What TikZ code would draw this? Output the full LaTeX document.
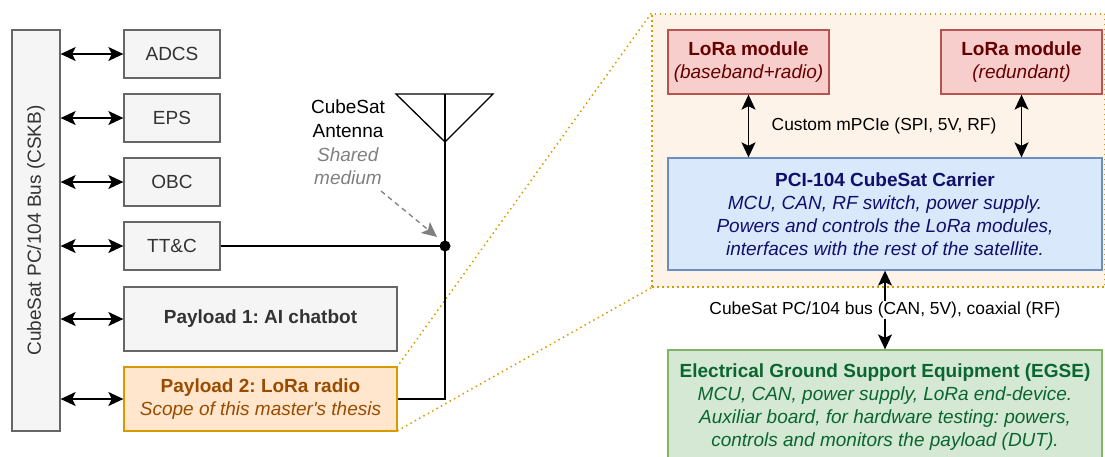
\documentclass[tikz,border=0pt]{standalone}
\usepackage{fontspec}
\setmainfont{Liberation Sans}[Ligatures=TeXOff]
\usetikzlibrary{arrows.meta}
\frenchspacing

\definecolor{grayfill}{HTML}{F5F5F5}
\definecolor{grayline}{HTML}{666666}
\definecolor{graytext}{HTML}{333333}
\definecolor{oranfill}{HTML}{FFE6CC}
\definecolor{oranline}{HTML}{D79B00}
\definecolor{orantext}{HTML}{994C00}
\definecolor{scopefill}{HTML}{FEF3E8}
\definecolor{redfill}{HTML}{F8CECC}
\definecolor{redline}{HTML}{B85450}
\definecolor{redtext}{HTML}{660000}
\definecolor{bluefill}{HTML}{DAE8FC}
\definecolor{blueline}{HTML}{6C8EBF}
\definecolor{bluetext}{HTML}{10106A}
\definecolor{greenfill}{HTML}{D5E8D4}
\definecolor{greenline}{HTML}{82B366}
\definecolor{greentext}{HTML}{0A6630}
\definecolor{notegray}{HTML}{808080}

\begin{document}
\begin{tikzpicture}[x=1pt,y=-1pt,
  txt/.style={font=\fontsize{19}{23}\selectfont},
  edgetxt/.style={font=\fontsize{17.4}{21}\selectfont},
  box/.style={txt, draw, line width=1.3pt, inner sep=0pt, align=center},
  graybox/.style={box, draw=grayline, fill=grayfill, text=graytext},
  oranbox/.style={box, draw=oranline, fill=oranfill, text=orantext},
  redbox/.style={box, draw=redline, fill=redfill, text=redtext},
  bluebox/.style={box, draw=blueline, fill=bluefill, text=bluetext},
  greenbox/.style={box, draw=greenline, fill=greenfill, text=greentext},
  link/.style={line width=1.5pt, {Stealth[length=15pt, width=14pt, inset=3.5pt]}-{Stealth[length=15pt, width=14pt, inset=3.5pt]}},
  wire/.style={line width=1.5pt},
  scopeline/.style={draw=oranline, line width=1.5pt, dash pattern=on 1.5pt off 3.5pt}
]
\useasboundingbox (0,0) rectangle (1105,456);

% detailed view of payload 2
\node[scopeline, fill=scopefill, minimum width=453pt, minimum height=273pt, inner sep=0pt] (scope) at (878.5,150.5) {};

% satellite bus and subsystems
\node[graybox, rotate=90, minimum width=401pt, minimum height=48pt] (bus) at (36,230.5) {CubeSat PC/104 Bus (CSKB)};
\node[graybox, minimum width=96pt, minimum height=48pt] (adcs) at (172,54) {ADCS};
\node[graybox, minimum width=96pt, minimum height=48pt] (eps) at (172,118) {EPS};
\node[graybox, minimum width=96pt, minimum height=48pt] (obc) at (172,182) {OBC};
\node[graybox, minimum width=96pt, minimum height=48pt] (ttc) at (172,246) {TT\&C};
\node[graybox, minimum width=273pt, minimum height=64pt] (pl1) at (260.5,319) {\textbf{Payload 1: AI chatbot}};

% dotted guides from payload 2 to its detailed view
\draw[scopeline] (scope.north west) -- (397,367) coordinate (pl2ne);
\draw[scopeline] (scope.south west) -- (397,431) coordinate (pl2se);

\node[oranbox, minimum width=273pt, minimum height=64pt] (pl2) at (260.5,399)
  {\textbf{Payload 2: LoRa radio}\\\textit{Scope of this master's thesis}};

\foreach \n in {adcs,eps,obc,ttc,pl1,pl2}
  \draw[link] (bus.south |- \n.west) -- (\n.west);

% antenna
\coordinate (antL) at (396,94);
\coordinate (antR) at (493,94);
\coordinate (antTop) at (445,94);
\coordinate (antTip) at (445,142);
\draw[line width=1.3pt, line join=miter] (antL) -- (antR) -- (antTip) -- cycle;
\node[circle, fill=black, inner sep=0pt, minimum size=11pt] (j) at (445,246) {};
\draw[wire] (antTop) -- (j.center);
\draw[wire] (j.center) |- (pl2.east);
\draw[wire] (ttc.east) -- (j.center);

\node[font=\fontsize{19}{23.7}\selectfont, align=center, inner sep=0pt] (antlabel) at (348,142.5)
  {CubeSat\\Antenna\\\textcolor{notegray}{\textit{Shared}}\\\textcolor{notegray}{\textit{medium}}};
\coordinate (notestart) at (381,191);
\coordinate (noteend) at (437,237);
\draw[notegray, line width=1.3pt, dash pattern=on 5pt off 4pt, -{Stealth[length=15pt, width=14pt, inset=3.5pt]}] (notestart) -- (noteend);

% payload 2 internals
\node[redbox, minimum width=161pt, minimum height=64pt] (lora1) at (748.5,62)
  {\textbf{LoRa module}\\\textit{(baseband+radio)}};
\node[redbox, minimum width=161pt, minimum height=64pt] (lora2) at (1021.5,62)
  {\textbf{LoRa module}\\\textit{(redundant)}};
\node[bluebox, minimum width=434pt, minimum height=112pt] (carrier) at (885,214)
  {\textbf{PCI-104 CubeSat Carrier}\\
   \textit{MCU, CAN, RF switch, power supply.}\\
   \textit{Powers and controls the LoRa modules,}\\
   \textit{interfaces with the rest of the satellite.}};
\node[greenbox, minimum width=434pt, minimum height=114pt] (egse) at (885,407)
  {\textbf{Electrical Ground Support Equipment (EGSE)}\\
   \textit{MCU, CAN, power supply, LoRa end-device.}\\
   \textit{Auxiliar board, for hardware testing: powers,}\\
   \textit{controls and monitors the payload (DUT).}};

\draw[link] (lora1.south) -- (lora1.south |- carrier.north);
\draw[link] (lora2.south) -- (lora2.south |- carrier.north);
\node[edgetxt, inner sep=0pt] (mpcie) at (884,126) {Custom mPCIe (SPI, 5V, RF)};

\draw[link] (carrier.south) -- (egse.north)
  node[midway, edgetxt, fill=white, inner sep=1pt] (buslabel) {CubeSat PC/104 bus (CAN, 5V), coaxial (RF)};
\end{tikzpicture}
\end{document}
